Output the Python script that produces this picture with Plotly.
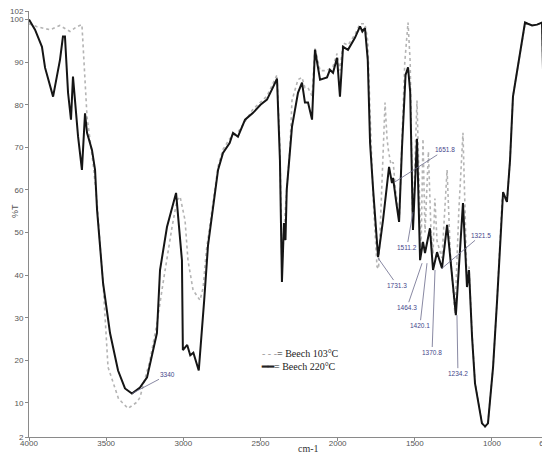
import plotly.graph_objects as go

# Beech 220°C (solid black)
wn_220 = [4000, 3961, 3916, 3896, 3844, 3832, 3819, 3799, 3780, 3767, 3747, 3728, 3715, 3702,
          3682, 3657, 3637, 3624, 3592, 3572, 3559, 3520, 3475, 3423, 3378, 3333, 3281, 3235,
          3171, 3151, 3106, 3047, 3009, 3003, 2975, 2955, 2935, 2900, 2880, 2865, 2840, 2814,
          2775, 2743, 2700, 2678, 2646, 2600, 2548, 2500, 2458, 2420, 2393, 2374, 2361, 2348,
          2338, 2330, 2309, 2296, 2257, 2231, 2212, 2192, 2166, 2147, 2114, 2069, 2050, 2030,
          2004, 1985, 1965, 1933, 1888, 1855, 1840, 1823, 1805, 1790, 1770, 1738, 1706, 1674,
          1667, 1648, 1641, 1620, 1602, 1583, 1560, 1544, 1530, 1512, 1486, 1466, 1447, 1434,
          1402, 1382, 1356, 1324, 1291, 1234, 1188, 1162, 1149, 1129, 1110, 1065, 1045, 1026,
          993, 967, 935, 928, 903, 883, 864, 786, 767, 740, 708, 676, 669, 660, 650]
t_220 = [100, 97.6, 93.6, 88.7, 81.9, 84.2, 85.9, 90.6, 96.0, 96.0, 82.8, 76.5, 86.6, 81.2,
         72.5, 64.7, 78.0, 73.4, 69.4, 64.7, 55.3, 38.1, 26.4, 17.6, 13.4, 12.2, 13.6, 16.0,
         26.4, 41.2, 51.3, 59.3, 43.5, 22.4, 23.6, 21.2, 21.8, 17.6, 26.4, 34.0, 47.0, 53.6,
         64.7, 68.7, 71.0, 73.4, 72.5, 76.5, 78.1, 80.0, 81.2, 84.0, 86.1, 67.0, 38.4, 52.2,
         48.2, 60.0, 69.4, 74.8, 82.8, 85.2, 80.5, 80.5, 76.5, 92.9, 85.9, 86.4, 88.2, 87.5,
         91.0, 81.9, 93.6, 92.9, 95.7, 98.4, 97.2, 98.0, 90.6, 71.0, 60.0, 44.2, 52.9, 63.1,
         65.4, 61.6, 62.8, 57.0, 52.5, 70.0, 87.0, 88.8, 83.0, 50.6, 72.0, 43.5, 47.8, 45.2,
         51.0, 41.2, 45.4, 41.6, 51.8, 30.6, 56.9, 37.2, 41.2, 25.4, 14.6, 5.2, 4.5, 5.2,
         18.4, 34.0, 57.6, 59.5, 57.2, 67.0, 81.9, 99.3, 99.0, 98.6, 98.8, 99.3, 87.5, 98.8, 98.5]

# Beech 103°C (grey dotted)
wn_103 = [4000, 3948, 3864, 3800, 3734, 3690, 3657, 3637, 3624, 3585, 3572, 3559, 3540, 3520,
          3488, 3420, 3358, 3300, 3281, 3216, 3171, 3151, 3132, 3073, 3041, 3021, 2989, 2970,
          2937, 2892, 2872, 2850, 2814, 2775, 2743, 2700, 2646, 2548, 2458, 2393, 2374, 2361,
          2340, 2309, 2296, 2257, 2231, 2212, 2192, 2166, 2147, 2114, 2069, 2030, 2004, 1985,
          1965, 1933, 1888, 1855, 1823, 1805, 1790, 1770, 1745, 1735, 1720, 1700, 1693, 1680,
          1670, 1655, 1640, 1625, 1600, 1585, 1565, 1544, 1530, 1515, 1505, 1486, 1470, 1460,
          1447, 1434, 1412, 1395, 1382, 1370, 1356, 1324, 1291, 1270, 1240, 1215, 1188, 1170,
          1162, 1149, 1129, 1110, 1065, 1045, 1026, 993, 967, 935, 928, 903, 883, 864, 786,
          767, 740, 708, 676, 669, 660, 650]
t_103 = [99.0, 98.3, 97.6, 98.6, 97.2, 98.3, 98.8, 86.6, 77.2, 66.3, 62.0, 57.0, 47.5, 38.1,
         18.4, 11.0, 8.7, 10.2, 11.3, 20.0, 28.7, 34.0, 38.0, 51.3, 57.6, 58.4, 52.9, 43.5,
         36.5, 34.1, 37.0, 46.0, 55.0, 65.5, 69.5, 72.0, 73.5, 79.0, 82.0, 87.0, 70.0, 42.0,
         55.0, 70.0, 81.0, 85.9, 86.4, 84.0, 84.0, 82.0, 93.5, 88.0, 88.0, 89.0, 92.0, 88.0,
         94.5, 94.0, 96.5, 99.0, 99.0, 95.0, 78.0, 58.0, 42.0, 41.5, 55.0, 76.0, 80.5, 72.0,
         69.0, 66.0, 66.5, 60.0, 53.5, 70.0, 90.0, 99.3, 90.0, 55.0, 60.0, 81.0, 55.0, 45.0,
         72.0, 50.0, 69.0, 50.0, 45.0, 58.0, 48.0, 44.0, 64.7, 45.0, 31.0, 55.0, 73.4, 45.0,
         38.0, 42.0, 26.0, 15.0, 5.5, 4.2, 5.5, 18.5, 34.0, 57.3, 59.0, 57.0, 67.0, 82.0, 99.0,
         99.0, 98.6, 98.8, 99.0, 88.0, 98.6, 98.5]

# peak labels, with label offset in px
peak_wn = [3333, 1738, 1628, 1512, 1453, 1421, 1369, 1324, 1227]
peak_t = [12.2, 44.0, 61.9, 54.8, 42.8, 42.8, 41.2, 41.6, 30.6]
peak_txt = ["3340", "1731.3", "1651.8", "1511.2", "1464.3", "1420.1", "1370.8", "1321.5", "1234.2"]
peak_dx = [36, 19, 50, -6, -15, -7, -3, 39, 1]
peak_dy = [-19, 27, -32, 35, 44, 62, 82, -33, 58]

legend_txt = ["= Beech 103°C", "= Beech 220°C"]

x_ticks = [4000, 3500, 3000, 2500, 2000, 1500, 1000, 650]
y_ticks = [2, 10, 20, 30, 40, 50, 60, 70, 80, 90, 100, 102]

fig = go.Figure()
fig.add_trace(go.Scatter(x=wn_103, y=t_103, mode="lines", name=legend_txt[0],
                         line=dict(color="#b4b4b4", width=1.6, dash="dot")))
fig.add_trace(go.Scatter(x=wn_220, y=t_220, mode="lines", name=legend_txt[1],
                         line=dict(color="#151515", width=2)))

for wn, t, txt, dx, dy in zip(peak_wn, peak_t, peak_txt, peak_dx, peak_dy):
    fig.add_annotation(x=wn, y=t, text=txt, showarrow=True, arrowhead=0, arrowwidth=0.8,
                       arrowcolor="#6a6a8a", ax=dx, ay=dy,
                       font=dict(size=6.5, color="#44448a", family="Liberation Sans"))

# hand-made legend (short samples like the original)
fig.add_annotation(text='<span style="color:#9a9a9a">- - -</span>' + legend_txt[0],
                   xref="paper", yref="paper", x=0.4475, y=0.178, xanchor="left",
                   showarrow=False, font=dict(size=10, family="Liberation Serif", color="#222"))
fig.add_annotation(text='<b>━━</b>' + legend_txt[1],
                   xref="paper", yref="paper", x=0.4445, y=0.147, xanchor="left",
                   showarrow=False, font=dict(size=10, family="Liberation Serif", color="#222"))

# axis titles
fig.add_annotation(text="cm-1", xref="paper", yref="paper", x=0.54, y=-0.026,
                   showarrow=False, yanchor="middle",
                   font=dict(size=10, family="Liberation Serif", color="#333"))
fig.add_annotation(text="%T", xref="paper", yref="paper", x=-0.041, y=0.53,
                   showarrow=False, textangle=-90,
                   font=dict(size=9, family="Liberation Sans", color="#555"))

fig.update_xaxes(range=[4000, 650], tickvals=x_ticks, ticks="outside", ticklen=3,
                 tickcolor="#888", showline=True, linecolor="#8a8a8a", linewidth=1,
                 showgrid=False, zeroline=False, ticklabelstandoff=-5, automargin=False,
                 ticklabeloverflow="allow",
                 tickfont=dict(size=8, color="#555", family="Liberation Sans"))
fig.update_yaxes(range=[2, 102], tickvals=y_ticks, ticks="outside", ticklen=3,
                 tickcolor="#888", showline=True, linecolor="#8a8a8a", linewidth=1,
                 showgrid=False, zeroline=False, automargin=False,
                 ticklabeloverflow="allow",
                 tickfont=dict(size=8, color="#555", family="Liberation Sans"))

# page body has an 8px margin, so the figure is a bit smaller than the window
fig.update_layout(
    width=542, height=446,
    margin=dict(l=21, r=4, t=3, b=17),
    paper_bgcolor="white", plot_bgcolor="white",
    showlegend=False,
)

fig.write_html("out.html")
